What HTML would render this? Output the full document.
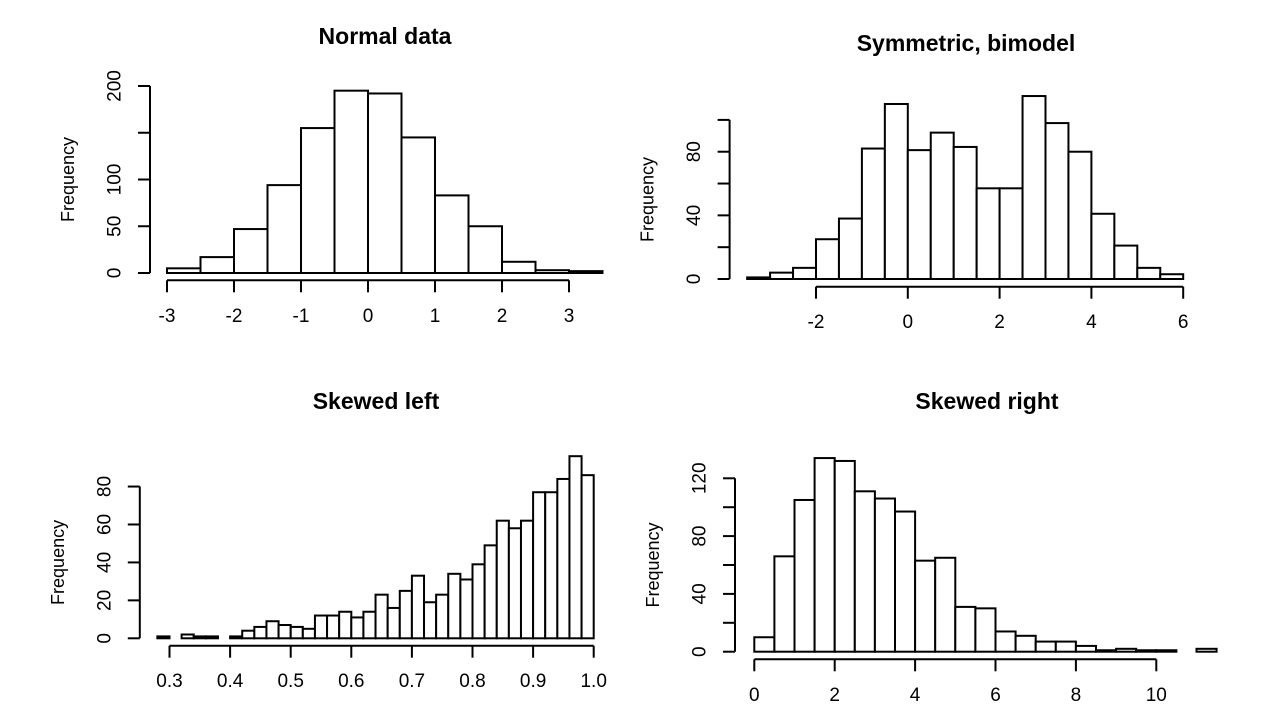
<!DOCTYPE html>
<html><head><meta charset="utf-8"><style>
html,body{margin:0;padding:0;background:#fff}
svg text{font-family:"Liberation Sans",Arial,sans-serif;fill:#000}
</style></head><body>
<svg id="chart" width="1280" height="720" viewBox="0 0 1280 720"></svg>
<script>
// Panel 1: Normal data
const normalBreakStart = -3, normalBinWidth = 0.5;
const normalCounts = [5,17,47,94,155,195,192,145,83,50,12,3,2];
const normalXTicks = [-3,-2,-1,0,1,2,3];
const normalYTicks = [0,50,100,150,200];
const normalYLabels = ["0","50","100","","200"];
// Panel 2: Symmetric, bimodel
const bimodalBreakStart = -3.5, bimodalBinWidth = 0.5;
const bimodalCounts = [1,4,7,25,38,82,110,81,92,83,57,57,115,98,80,41,21,7,3];
const bimodalXTicks = [-2,0,2,4,6];
const bimodalYTicks = [0,20,40,60,80,100];
const bimodalYLabels = ["0","","40","","80",""];
// Panel 3: Skewed left
const leftBreakStart = 0.28, leftBinWidth = 0.02;
const leftCounts = [1,0,2,1,1,0,1,4,6,9,7,6,5,12,12,14,11,14,23,16,25,33,19,23,34,31,39,49,62,58,62,77,77,84,96,86];
const leftXTicks = [0.3,0.4,0.5,0.6,0.7,0.8,0.9,1.0];
const leftXLabels = ["0.3","0.4","0.5","0.6","0.7","0.8","0.9","1.0"];
const leftYTicks = [0,20,40,60,80];
const leftYLabels = ["0","20","40","60","80"];
// Panel 4: Skewed right
const rightBreakStart = 0, rightBinWidth = 0.5;
const rightCounts = [10,66,105,134,132,111,106,97,63,65,31,30,14,11,7,7,4,1,2,1,1,0,2];
const rightXTicks = [0,2,4,6,8,10];
const rightYTicks = [0,20,40,60,80,100,120];
const rightYLabels = ["0","","40","","80","","120"];

const svg = document.getElementById('chart');
const NS = 'http://www.w3.org/2000/svg';
function mk(tag, attrs, parent){
  const e = document.createElementNS(NS, tag);
  for (const k in attrs) e.setAttribute(k, attrs[k]);
  (parent||svg).appendChild(e);
  return e;
}
function panel(cfg){
  const g = mk('g', {});
  
  
  const xs = v => cfg.x0px + (v - cfg.x0v) * cfg.xScale;
  const ys = v => cfg.y0px - v * cfg.yScale;
  const t = mk('text', {x: cfg.titleX, y: cfg.titleY, 'text-anchor':'middle', 'font-size':23, 'font-weight':'bold'}, g);
  t.textContent = cfg.title;
  
  
  cfg.counts.forEach((c, i) => {
    const a = cfg.start + i * cfg.bw, b = a + cfg.bw;
    const r = mk('rect', {x: xs(a), y: ys(c), width: xs(b) - xs(a), height: ys(0) - ys(c), fill:'#fff', stroke:'#000', 'stroke-width':2}, g);
    
    
  });
  const ax = cfg.yAxisX, tmin = cfg.yTicks[0], tmax = cfg.yTicks[cfg.yTicks.length-1];
  const yl = mk('line', {x1: ax, x2: ax, y1: ys(tmin), y2: ys(tmax), stroke:'#000', 'stroke-width':2}, g);
  
  
  cfg.yTicks.forEach((v, i) => {
    mk('line', {x1: ax - 12, x2: ax, y1: ys(v), y2: ys(v), stroke:'#000', 'stroke-width':2}, g);
    if (cfg.yLabels[i]) {
      const tx = mk('text', {x: ax - 35, y: ys(v), 'text-anchor':'middle', 'dominant-baseline':'central', 'font-size':19, transform:`rotate(-90 ${ax-35} ${ys(v)})`}, g);
      tx.textContent = cfg.yLabels[i];
      
      
    }
  });
  const fy = (ys(tmin) + ys(tmax)) / 2;
  const fl = mk('text', {x: ax - 82, y: fy, 'text-anchor':'middle', 'dominant-baseline':'central', 'font-size':18, transform:`rotate(-90 ${ax-82} ${fy})`}, g);
  fl.textContent = 'Frequency';
  
  
  const ay = cfg.xAxisY, xt = cfg.xTicks;
  const xl = mk('line', {x1: xs(xt[0]), x2: xs(xt[xt.length-1]), y1: ay, y2: ay, stroke:'#000', 'stroke-width':2}, g);
  
  
  xt.forEach((v, i) => {
    mk('line', {x1: xs(v), x2: xs(v), y1: ay, y2: ay + 12, stroke:'#000', 'stroke-width':2}, g);
    const tx = mk('text', {x: xs(v), y: ay + 36, 'text-anchor':'middle', 'dominant-baseline':'central', 'font-size':19}, g);
    tx.textContent = cfg.xLabels ? cfg.xLabels[i] : String(v);
    
    
  });
}
panel({name:'normal-data-panel', title:'Normal data', titleX:385, titleY:44, counts:normalCounts, start:normalBreakStart, bw:normalBinWidth,
  x0v:-3, x0px:167, xScale:67, y0px:273, yScale:0.935, yAxisX:150, xAxisY:280.3,
  xTicks:normalXTicks, yTicks:normalYTicks, yLabels:normalYLabels});
panel({name:'bimodal-panel', title:'Symmetric, bimodel', titleX:966, titleY:51, counts:bimodalCounts, start:bimodalBreakStart, bw:bimodalBinWidth,
  x0v:-2, x0px:816, xScale:45.9, y0px:279, yScale:1.591, yAxisX:729.6, xAxisY:286.7,
  xTicks:bimodalXTicks, yTicks:bimodalYTicks, yLabels:bimodalYLabels});
panel({name:'skewed-left-panel', title:'Skewed left', titleX:376, titleY:409, counts:leftCounts, start:leftBreakStart, bw:leftBinWidth,
  x0v:0.3, x0px:169.5, xScale:606, y0px:638.3, yScale:1.897, yAxisX:139.8, xAxisY:645.7,
  xTicks:leftXTicks, xLabels:leftXLabels, yTicks:leftYTicks, yLabels:leftYLabels});
panel({name:'skewed-right-panel', title:'Skewed right', titleX:987, titleY:409, counts:rightCounts, start:rightBreakStart, bw:rightBinWidth,
  x0v:0, x0px:754.3, xScale:40.2, y0px:651.7, yScale:1.445, yAxisX:735, xAxisY:659.3,
  xTicks:rightXTicks, yTicks:rightYTicks, yLabels:rightYLabels});
</script>
</body></html>
